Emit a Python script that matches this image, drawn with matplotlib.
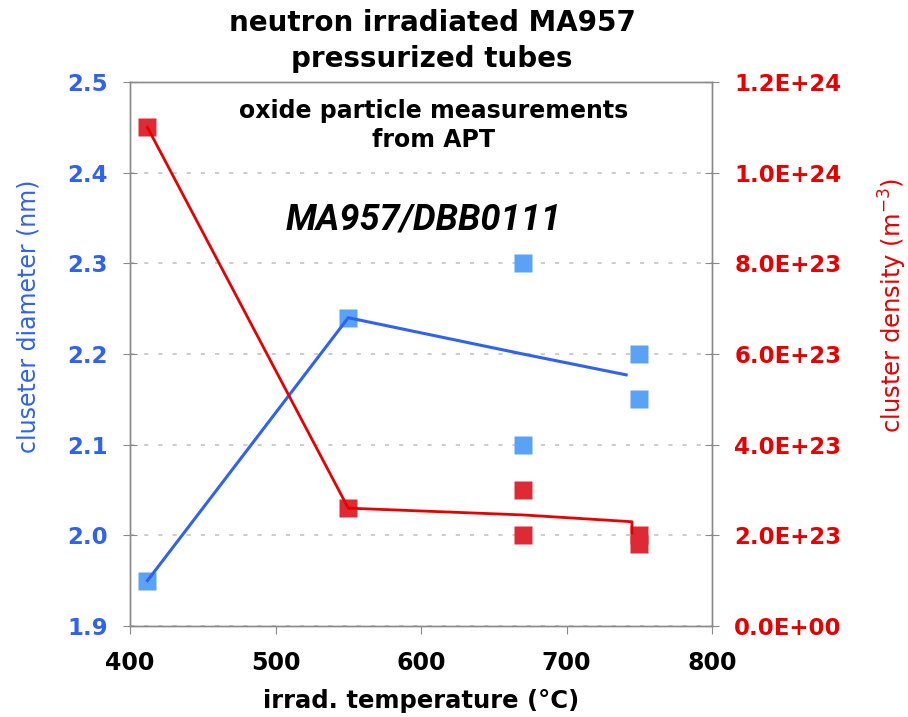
import matplotlib
matplotlib.use('Agg')
import matplotlib.pyplot as plt
from matplotlib.ticker import FuncFormatter

# measured points
temp_diam = [412, 550, 670, 670, 750, 750]
diameter = [1.95, 2.24, 2.30, 2.10, 2.20, 2.15]
temp_dens = [412, 550, 670, 670, 750, 750]
density = [1.10e24, 2.6e23, 3.0e23, 2.0e23, 2.0e23, 1.8e23]

# trend lines (through the means)
trend_temp_diam = [412, 550, 670, 741]
trend_diam = [1.95, 2.24, 2.20, 2.177]
trend_temp_dens = [412, 550, 670, 745, 745]
trend_dens = [1.10e24, 2.6e23, 2.45e23, 2.3e23, 2.05e23]

diam_ticks = [1.9, 2.0, 2.1, 2.2, 2.3, 2.4, 2.5]
dens_ticks = [0, 2e23, 4e23, 6e23, 8e23, 1.0e24, 1.2e24]
x_ticks = [400, 500, 600, 700, 800]

blue = '#2f62f0'
blue_pt = '#5aa2f5'
red = '#e80000'
red_pt = '#dd2a35'
grey = '#8a8a8a'

fig = plt.figure(figsize=(9.08, 7.17), dpi=100)
ax = fig.add_axes([130 / 908, 1 - 626 / 717, 582 / 908, 544 / 717])
ax2 = ax.twinx()

ax.plot(trend_temp_diam, trend_diam, color=blue, lw=2.2, zorder=3)
ax.plot(temp_diam, diameter, 's', color=blue_pt, ms=13.5, mec='none', zorder=2)
ax2.plot(trend_temp_dens, trend_dens, color=red, lw=2.0, zorder=3)
ax2.plot(temp_dens, density, 's', color=red_pt, ms=13.5, mec='none', zorder=2)

ax.set_xlim(400, 800)
ax.set_ylim(1.9, 2.5)
ax2.set_ylim(0, 1.2e24)
ax.set_xticks(x_ticks)
ax.set_yticks(diam_ticks)
ax2.set_yticks(dens_ticks)
ax.yaxis.set_major_formatter(FuncFormatter(lambda v, p: '%.1f' % v))
ax2.yaxis.set_major_formatter(FuncFormatter(
    lambda v, p: '%.1E' % v if v else '0.0E+00'))

ax.grid(axis='y', color='#c4c4c4', ls=(0, (2.5, 6)), lw=1.2)
for a in (ax, ax2):
    for s in a.spines.values():
        s.set_color(grey)
        s.set_linewidth(1.0)

ax.tick_params(axis='x', direction='out', length=6, color=grey, pad=12,
               labelsize=17)
ax.tick_params(axis='y', direction='inout', length=10, color=grey, pad=11,
               labelsize=16.5, labelcolor=blue)
ax2.tick_params(axis='y', direction='inout', length=10, color=grey, pad=11,
                labelsize=16.5, labelcolor=red)
for lab in ax.get_xticklabels() + ax.get_yticklabels() + ax2.get_yticklabels():
    lab.set_fontweight('bold')

ax.set_xlabel('irrad. temperature (\u00b0C)', fontsize=17.5, fontweight='bold',
              labelpad=10)
ax.set_ylabel('cluseter diameter (nm)', fontsize=17, color=blue, labelpad=19)
ax2.set_ylabel('cluster density (m$^{-3}$)', fontsize=17.5, color=red,
               labelpad=25)
ax.yaxis.label.set_y(0.57)
ax2.yaxis.label.set_y(0.59)

fig.text(432 / 908, 1 - 41 / 717, 'neutron irradiated MA957\npressurized tubes',
         ha='center', va='center', fontsize=20, fontweight='bold',
         linespacing=1.4)
ax.text(0.522, 0.92, 'oxide particle measurements\nfrom APT',
        transform=ax.transAxes, ha='center', va='center', fontsize=17,
        fontweight='bold', linespacing=1.25)
ax.text(0.505, 0.748, 'MA957/DBB0111', transform=ax.transAxes, ha='center',
        va='center', fontsize=26, fontweight='bold', fontstyle='italic',
        family='Roboto')

fig.savefig('out.png', dpi=100)
